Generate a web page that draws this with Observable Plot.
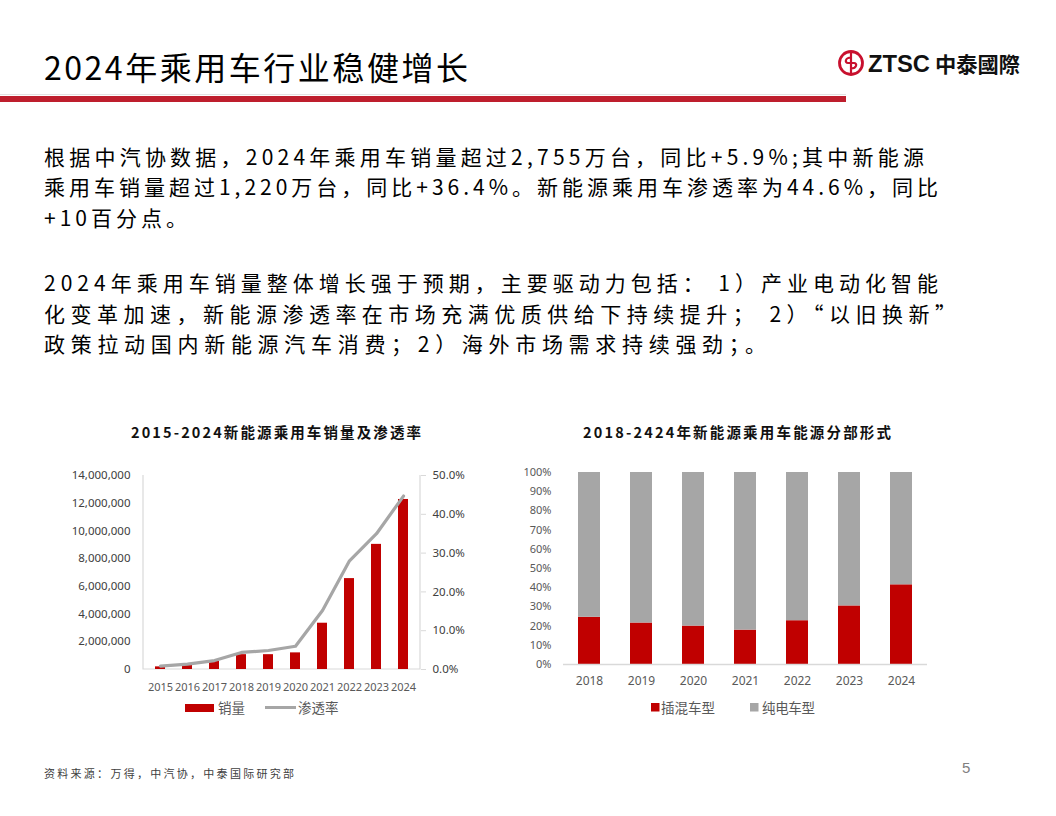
<!DOCTYPE html>
<html>
<head>
<meta charset="utf-8">
<script src="https://cdn.jsdelivr.net/npm/d3@7"></script>
<script src="https://cdn.jsdelivr.net/npm/@observablehq/plot@0.6"></script>
<style>
  html, body { margin: 0; padding: 0; background: #fff; }
  #page { position: relative; width: 1056px; height: 816px; overflow: hidden; background: #fff; font-family: "Noto Sans CJK SC", "Noto Sans", sans-serif; }
  #deco { position: absolute; left: 0; top: 0; }
  .chart { position: absolute; }
  .chart svg { overflow: visible; }
</style>
</head>
<body>
<div id="page">
  <svg id="deco" width="1056" height="816" xmlns="http://www.w3.org/2000/svg" font-family="'Noto Sans CJK SC', sans-serif">
    <!-- header -->
    <text x="44" y="80" font-size="32" fill="#000" textLength="424" lengthAdjust="spacing">2024年乘用车行业稳健增长</text>
    <rect x="0" y="94" width="846" height="1" fill="#e2e2e2"></rect>
    <rect x="0" y="96" width="846" height="6" fill="#BE1E2D"></rect>
    <!-- logo -->
    <g>
      <circle cx="851" cy="63" r="11.5" fill="none" stroke="#C8102E" stroke-width="2.8"></circle>
      <path d="M851,53 V73 M851,57.5 C845,57.5 844.5,63 848,63 C851,63 851,63 851,63 M851,68.5 C857,68.5 857.5,63 854,63 C851,63 851,63 851,63" fill="none" stroke="#C8102E" stroke-width="2.2"></path>
      <text x="868" y="72" font-family="'Liberation Sans', Arial, sans-serif" font-weight="bold" font-size="24" fill="#111" textLength="62" lengthAdjust="spacingAndGlyphs">ZTSC</text>
      <text x="935" y="72" font-weight="bold" font-size="21" fill="#111" textLength="85" lengthAdjust="spacingAndGlyphs">中泰國際</text>
    </g>
    <!-- body text -->
    <g font-size="21" fill="#000">
      <text x="44" y="164.5" textLength="880" lengthAdjust="spacing">根据中汽协数据，2024年乘用车销量超过2,755万台，同比+5.9%;其中新能源</text>
      <text x="44" y="195" textLength="894" lengthAdjust="spacing">乘用车销量超过1,220万台，同比+36.4%。新能源乘用车渗透率为44.6%，同比</text>
      <text x="44" y="225.5" textLength="143" lengthAdjust="spacing">+10百分点。</text>
      <text x="44" y="291" textLength="894" lengthAdjust="spacing">2024年乘用车销量整体增长强于预期，主要驱动力包括： 1）产业电动化智能</text>
      <text x="44" y="321.5" textLength="912" lengthAdjust="spacing">化变革加速，新能源渗透率在市场充满优质供给下持续提升； 2）“以旧换新”</text>
      <text x="44" y="352" textLength="722" lengthAdjust="spacing">政策拉动国内新能源汽车消费；2）海外市场需求持续强劲；。</text>
    </g>
    <!-- chart titles -->
    <text x="131" y="438" font-size="14.5" font-weight="bold" fill="#111" textLength="290" lengthAdjust="spacing">2015-2024新能源乘用车销量及渗透率</text>
    <text x="583" y="438" font-size="14.5" font-weight="bold" fill="#111" textLength="308" lengthAdjust="spacing">2018-2424年新能源乘用车能源分部形式</text>
    <!-- legends -->
    <rect x="185" y="704" width="29" height="8" fill="#C00000"></rect>
    <text x="218" y="712.5" font-size="13.5" fill="#595959">销量</text>
    <line x1="265" y1="707.5" x2="296" y2="707.5" stroke="#A6A6A6" stroke-width="3"></line>
    <text x="298" y="712.5" font-size="13.5" fill="#595959">渗透率</text>
    <rect x="651" y="703" width="8.5" height="8.5" fill="#C00000"></rect>
    <text x="661" y="712.5" font-size="13.5" fill="#595959" textLength="54" lengthAdjust="spacing">插混车型</text>
    <rect x="750" y="703" width="8.5" height="8.5" fill="#A6A6A6"></rect>
    <text x="762" y="712.5" font-size="13.5" fill="#595959" textLength="53" lengthAdjust="spacing">纯电车型</text>
    <!-- footer -->
    <text x="44" y="777.5" font-size="11" fill="#404040" textLength="250" lengthAdjust="spacing">资料来源：万得，中汽协，中泰国际研究部</text>
    <text x="962" y="773" font-size="15" fill="#808080" font-family="'Liberation Sans', sans-serif">5</text>
  </svg>
  <div id="left" class="chart" style="left:0px; top:450px;"></div>
  <div id="right" class="chart" style="left:500px; top:450px;"></div>
</div>
<script>
// ---- Left chart data: NEV passenger car sales & penetration ----
const years1 = ["2015","2016","2017","2018","2019","2020","2021","2022","2023","2024"];
const sales = [190000, 340000, 580000, 1070000, 1070000, 1200000, 3340000, 6560000, 9030000, 12270000];
const penetration = [0.85, 1.4, 2.3, 4.4, 4.9, 6.0, 15.2, 28.0, 35.0, 44.7];
const salesTicks = [0, 2000000, 4000000, 6000000, 8000000, 10000000, 12000000, 14000000];
const penTicks = [0, 10, 20, 30, 40, 50];

// ---- Right chart data: PHEV vs BEV share ----
const years2 = ["2018","2019","2020","2021","2022","2023","2024"];
const phevShare = [24.6, 21.6, 20.0, 17.9, 22.8, 30.5, 41.5];
const bevShare  = [75.4, 78.4, 80.0, 82.1, 77.2, 69.5, 58.5];
const shareTicks = [0, 10, 20, 30, 40, 50, 60, 70, 80, 90, 100];
const types = ["插混车型", "纯电车型"];

const tickFont = "'Noto Sans', 'Liberation Sans', sans-serif";

// map secondary axis (0–50%) onto primary (0–14,000,000)
const yMax = 14000000, pMax = 50;
const k = yMax / pMax;

const leftData = years1.map((y, i) => ({year: y, sales: sales[i], pen: penetration[i]}));

const axisLines = (index, scales, values, dims) => {
  const p = document.createElementNS("http://www.w3.org/2000/svg", "path");
  const l = dims.marginLeft, r = dims.width - dims.marginRight;
  const t = dims.marginTop, b = dims.height - dims.marginBottom;
  p.setAttribute("d", `M${l},${t}V${b}H${r}V${t}`);
  p.setAttribute("fill", "none");
  p.setAttribute("stroke", "#D9D9D9");
  p.setAttribute("stroke-width", "1.2");
  return p;
};

const left = Plot.plot({
  width: 480,
  height: 250,
  marginLeft: 143,
  marginRight: 60,
  marginTop: 25,
  marginBottom: 31,
  style: {fontFamily: tickFont, fontSize: "11.5px", color: "#404040", background: "transparent"},
  x: {type: "band", domain: years1, paddingInner: 0.64, paddingOuter: 0.32, label: null},
  y: {domain: [0, yMax], label: null},
  marks: [
    axisLines,
    Plot.barY(leftData, {x: "year", y: "sales", fill: "#C00000"}),
    Plot.lineY(leftData, {x: "year", y: d => d.pen * k, stroke: "#A6A6A6", strokeWidth: 3.2, strokeLinejoin: "round"}),
    Plot.axisY({anchor: "left", ticks: salesTicks, tickFormat: d3.format(","), tickSize: 0, tickPadding: 13, label: null, fill: "#404040"}),
    Plot.axisY({anchor: "right", ticks: penTicks.map(p => p * k), tickFormat: v => (v / k).toFixed(1) + "%", tickSize: 5, tickPadding: 7, stroke: "#D9D9D9", fill: "#404040", label: null}),
    Plot.axisX({tickSize: 0, tickPadding: 14, label: null, fill: "#595959", fontSize: 11})
  ]
});
document.getElementById("left").appendChild(left);

// ---- Right chart ----
const rightData = [];
years2.forEach((y, i) => rightData.push({year: y, type: types[0], value: phevShare[i]}));
years2.forEach((y, i) => rightData.push({year: y, type: types[1], value: bevShare[i]}));

const right = Plot.plot({
  width: 460,
  height: 250,
  marginLeft: 63,
  marginRight: 33,
  marginTop: 22,
  marginBottom: 36,
  style: {fontFamily: tickFont, fontSize: "11px", color: "#595959", background: "transparent"},
  x: {type: "band", domain: years2, paddingInner: 0.58, paddingOuter: 0.29, label: null},
  y: {domain: [0, 100], label: null},
  color: {domain: types, range: ["#C00000", "#A6A6A6"]},
  marks: [
    Plot.barY(rightData, {x: "year", y: "value", fill: "type", order: types}),
    Plot.ruleY([0], {stroke: "#D9D9D9", strokeWidth: 1.5}),
    Plot.axisY({ticks: shareTicks, tickFormat: d => d + "%", tickSize: 0, tickPadding: 12, label: null, fill: "#595959"}),
    Plot.axisX({tickSize: 0, tickPadding: 12, label: null, fill: "#595959", fontSize: 12})
  ]
});
document.getElementById("right").appendChild(right);
</script>
</body>
</html>
